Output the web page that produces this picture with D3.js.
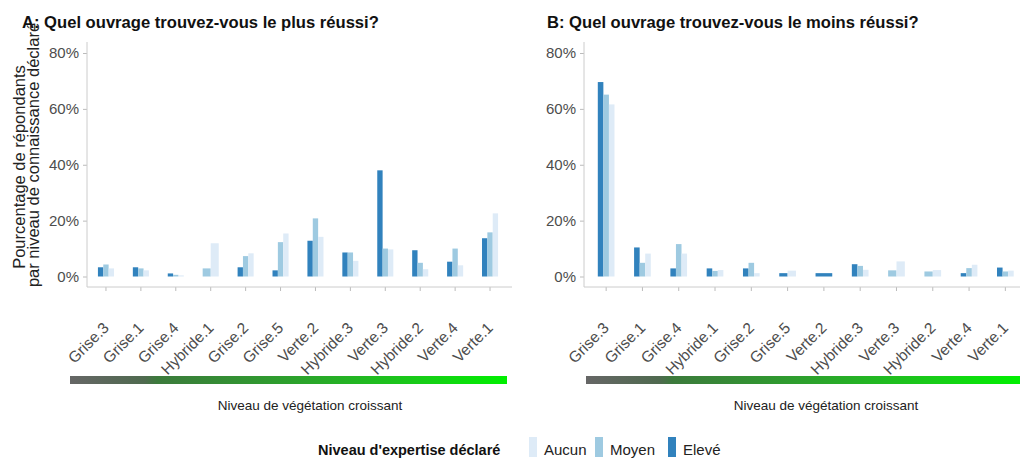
<!DOCTYPE html>
<html>
<head>
<meta charset="utf-8">
<script src="https://cdn.jsdelivr.net/npm/d3@7"></script>
<style>
  body { margin: 0; background: #fff; }
  svg { display: block; font-family: "Liberation Sans", Arial, sans-serif; }
</style>
</head>
<body>
<script>
// categories, left to right (increasing vegetation)
const categories = ["Grise.3", "Grise.1", "Grise.4", "Hybride.1", "Grise.2", "Grise.5",
  "Verte.2", "Hybride.3", "Verte.3", "Hybride.2", "Verte.4", "Verte.1"];
const dodgeOrder = ["Elevé", "Moyen", "Aucun"];
const legendOrder = ["Aucun", "Moyen", "Elevé"];

// A: le plus réussi (% of respondents), null = no bar
const plusEleve = [3.3, 3.3, 1.1, null, 3.3, 2.2, 12.8, 8.6, 38.0, 9.4, 5.3, 13.7];
const plusMoyen = [4.3, 2.9, 0.6, 2.9, 7.3, 12.3, 20.8, 8.6, 10.0, 4.9, 10.0, 15.8];
const plusAucun = [2.9, 2.2, 0.4, 11.9, 8.3, 15.4, 14.2, 5.6, 9.7, 2.6, 4.0, 22.6];

// B: le moins réussi
const moinsEleve = [69.6, 10.4, 2.9, 2.9, 2.9, 1.2, 1.2, 4.4, null, null, 1.2, 3.2];
const moinsMoyen = [65.1, 4.9, 11.6, 2.0, 4.9, null, null, 3.8, 2.2, 1.8, 3.0, 1.8];
const moinsAucun = [61.6, 8.2, 8.2, 2.3, 1.2, 2.1, null, 2.4, 5.4, 2.3, 4.2, 2.1];

const yTicks = [0, 20, 40, 60, 80];

const colors = { "Aucun": "#deebf7", "Moyen": "#9ecae1", "Elevé": "#3182bd" };

const W = 1020, H = 458;
const svg = d3.select("body").append("svg").attr("width", W).attr("height", H);

const defs = svg.append("defs");
const grad = defs.append("linearGradient").attr("id", "veg");
[[0, "#666666"], [0.17, "#4f6a4f"], [0.2, "#3c7a3c"], [0.55, "#2aa62a"], [0.8, "#18cc18"], [1, "#00f000"]]
  .forEach(([o, c]) => grad.append("stop").attr("offset", o).attr("stop-color", c));

const y = d3.scaleLinear().domain([0, 80]).range([276.5, 53]);

const panels = [
  { title: "A: Quel ouvrage trouvez-vous le plus réussi?", titleX: 22, axisX: 87, range: [88.5, 507.5], xEnd: 512,
    values: { "Elevé": plusEleve, "Moyen": plusMoyen, "Aucun": plusAucun }, bar: [70, 507], labelX: 310 },
  { title: "B: Quel ouvrage trouvez-vous le moins réussi?", titleX: 547, axisX: 584, range: [588, 1023.5], xEnd: 1020,
    values: { "Elevé": moinsEleve, "Moyen": moinsMoyen, "Aucun": moinsAucun }, bar: [586, 1020], labelX: 826 }
];

panels.forEach(p => {
  const g = svg.append("g");
  const x = d3.scaleBand().domain(categories).range(p.range).padding(0);

  g.append("text").attr("x", p.titleX).attr("y", 28)
    .attr("font-size", 16.6).attr("font-weight", "bold").attr("fill", "#111")
    .text(p.title);

  // y axis
  const ya = g.append("g").attr("transform", `translate(${p.axisX},0)`)
    .call(d3.axisLeft(y).tickValues(yTicks).tickFormat(d => d + "%").tickSize(4).tickPadding(4));
  ya.select(".domain").remove();
  ya.selectAll(".tick line").attr("stroke", "#bbb");
  ya.selectAll(".tick text").attr("font-size", 15).attr("fill", "#4d4d4d").attr("font-family", null);
  g.append("line").attr("x1", p.axisX).attr("x2", p.axisX).attr("y1", 42).attr("y2", 287)
    .attr("stroke", "#ccc");

  // x axis
  const xa = g.append("g").attr("transform", "translate(0,287)")
    .call(d3.axisBottom(x).tickSize(4).tickPadding(0));
  xa.select(".domain").remove();
  xa.selectAll(".tick line").attr("stroke", "#bbb");
  xa.selectAll(".tick text")
    .attr("font-size", 15.5).attr("fill", "#4d4d4d").attr("font-family", null)
    .attr("text-anchor", "end").attr("dy", null)
    .attr("transform", "translate(1,39) rotate(-45)");
  g.append("line").attr("x1", p.axisX).attr("x2", p.xEnd).attr("y1", 287).attr("y2", 287)
    .attr("stroke", "#ccc");

  // dodged bars (missing levels widen the remaining ones)
  categories.forEach((c, i) => {
    const present = dodgeOrder.filter(l => p.values[l][i] != null);
    const gw = x.bandwidth() * 0.46;
    const bw = gw / present.length;
    const x0 = x(c) + x.bandwidth() / 2 - gw / 2;
    g.selectAll(null).data(present).join("rect")
      .attr("x", (l, j) => x0 + j * bw)
      .attr("width", bw)
      .attr("y", l => y(p.values[l][i]))
      .attr("height", l => y(0) - y(p.values[l][i]))
      .attr("fill", l => colors[l]);
  });

  // vegetation gradient bar
  g.append("rect").attr("x", p.bar[0]).attr("y", 376).attr("width", p.bar[1] - p.bar[0]).attr("height", 8)
    .attr("fill", "url(#veg)");
  g.append("text").attr("x", p.labelX).attr("y", 410).attr("text-anchor", "middle")
    .attr("font-size", 13.5).attr("fill", "#222").text("Niveau de végétation croissant");
});

// y axis title (two lines)
svg.append("text").attr("transform", "translate(25,167) rotate(-90)").attr("text-anchor", "middle")
  .attr("font-size", 16.5).attr("fill", "#222").text("Pourcentage de répondants");
svg.append("text").attr("transform", "translate(39,155) rotate(-90)").attr("text-anchor", "middle")
  .attr("font-size", 16.5).attr("fill", "#222").text("par niveau de connaissance déclaré");

// legend
const lg = svg.append("g");
lg.append("text").attr("x", 318).attr("y", 455).attr("font-size", 14.5).attr("font-weight", "bold")
  .attr("fill", "#111").text("Niveau d'expertise déclaré");
const legendX = { "Aucun": 529, "Moyen": 595, "Elevé": 668 };
legendOrder.forEach(l => {
  lg.append("rect").attr("x", legendX[l]).attr("y", 437).attr("width", 8).attr("height", 20).attr("fill", colors[l]);
  lg.append("text").attr("x", legendX[l] + 15).attr("y", 455).attr("font-size", 15).attr("fill", "#222").text(l);
});
</script>
</body>
</html>
